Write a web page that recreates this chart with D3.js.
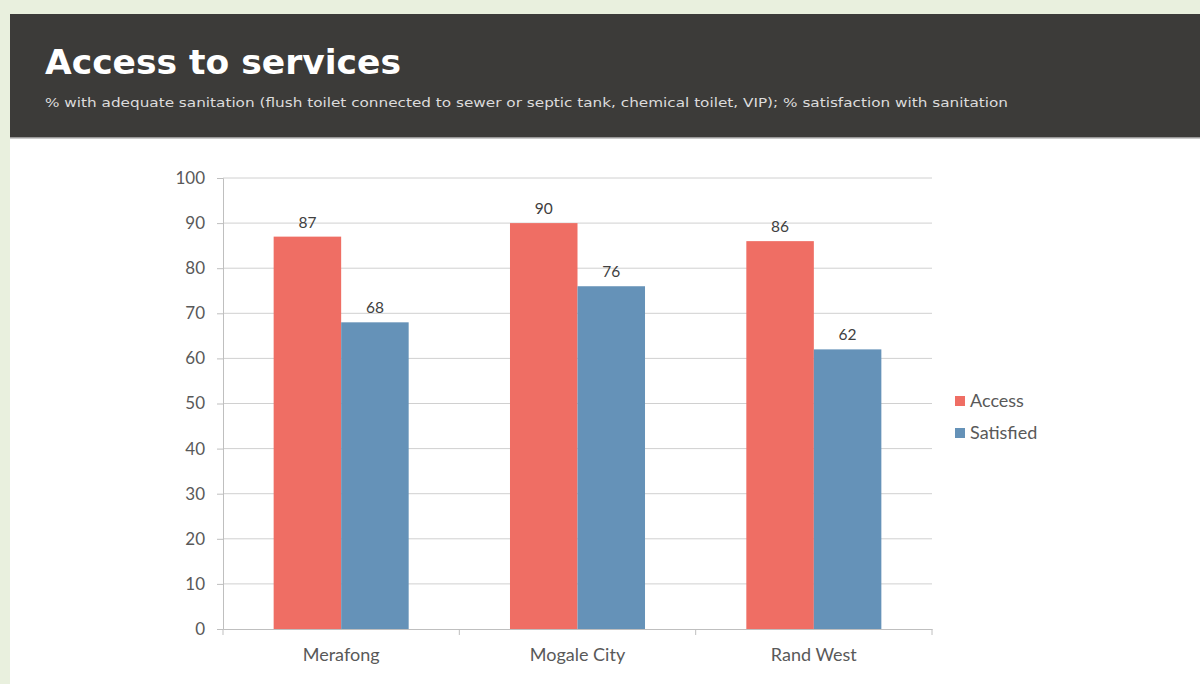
<!DOCTYPE html>
<html>
<head>
<meta charset="utf-8">
<script src="https://cdn.jsdelivr.net/npm/d3@7"></script>
<style>
  body { margin: 0; background: #e9f0de; }
</style>
</head>
<body>
<script>
// data
const categories = ["Merafong", "Mogale City", "Rand West"];
const seriesNames = ["Access", "Satisfied"];
const accessValues = [87, 90, 86];
const satisfiedValues = [68, 76, 62];
const yTicks = [0, 10, 20, 30, 40, 50, 60, 70, 80, 90, 100];

const colors = {Access: "#ef6e64", Satisfied: "#6592b8"};

const width = 1200, height = 684;

const svg = d3.select("body")
  .append("svg")
    .attr("width", width)
    .attr("height", height)
    .style("display", "block");

// page background + panels
svg.append("rect").attr("width", width).attr("height", height).attr("fill", "#e9f0de");
svg.append("rect").attr("x", 10).attr("y", 14).attr("width", width - 10).attr("height", 124).attr("fill", "#3c3b39");
svg.append("rect").attr("x", 10).attr("y", 138).attr("width", width - 10).attr("height", height - 138).attr("fill", "#ffffff");
svg.append("line").attr("x1", 10).attr("x2", width).attr("y1", 138).attr("y2", 138)
  .attr("stroke", "#b8b8b8").attr("stroke-width", 1.5);

svg.append("text")
  .attr("x", 45).attr("y", 74)
  .attr("fill", "#ffffff")
  .style("font-family", "DejaVu Sans")
  .style("font-weight", "bold")
  .style("font-size", "34.5px")
  .text("Access to services");

svg.append("text")
  .attr("x", 45).attr("y", 107)
  .attr("fill", "#dcdcdc")
  .attr("textLength", 963)
  .attr("lengthAdjust", "spacingAndGlyphs")
  .style("font-family", "DejaVu Sans")
  .style("font-size", "12.5px")
  .text("% with adequate sanitation (flush toilet connected to sewer or septic tank, chemical toilet, VIP); % satisfaction with sanitation");

// chart area
const plot = {left: 223, right: 932, top: 178, bottom: 629};

const x = d3.scaleBand()
  .domain(categories)
  .range([plot.left, plot.right])
  .paddingInner(0.4287)
  .paddingOuter(0.2143);

const xSub = d3.scaleBand()
  .domain(seriesNames)
  .range([0, x.bandwidth()]);

const y = d3.scaleLinear()
  .domain([0, 100])
  .range([plot.bottom, plot.top]);

const fontAxis = "Lato, 'Open Sans', sans-serif";

// gridlines
svg.append("g")
  .selectAll("line")
  .data(yTicks.filter(d => d > 0))
  .join("line")
    .attr("x1", plot.left).attr("x2", plot.right)
    .attr("y1", d => y(d)).attr("y2", d => y(d))
    .attr("stroke", "#d0d0d0")
    .attr("stroke-width", 1);

// y axis
const yAxis = svg.append("g")
  .attr("transform", `translate(${plot.left},0)`)
  .call(d3.axisLeft(y).tickValues(yTicks).tickSize(6).tickPadding(12));
yAxis.select(".domain").attr("stroke", "#bfbfbf");
yAxis.selectAll(".tick line").attr("stroke", "#bfbfbf");
yAxis.selectAll(".tick text")
  .attr("fill", "#595959")
  .style("font-family", fontAxis)
  .style("font-size", "17px");

// x axis
const xAxis = svg.append("g")
  .attr("transform", `translate(0,${plot.bottom})`)
  .call(d3.axisBottom(x).tickSize(0).tickPadding(19));
xAxis.select(".domain").attr("stroke", "#bfbfbf");
xAxis.selectAll(".tick text")
  .attr("fill", "#595959")
  .style("font-family", fontAxis)
  .style("font-size", "18px");
// category boundary ticks
const step = x.step();
xAxis.append("g")
  .selectAll("line")
  .data(d3.range(categories.length + 1))
  .join("line")
    .attr("x1", i => plot.left + i * step)
    .attr("x2", i => plot.left + i * step)
    .attr("y1", 0).attr("y2", 6)
    .attr("stroke", "#bfbfbf");

// bars
const rows = categories.map((c, i) => ({
  category: c,
  values: [
    {series: "Access", value: accessValues[i]},
    {series: "Satisfied", value: satisfiedValues[i]}
  ]
}));

const groups = svg.append("g")
  .selectAll("g")
  .data(rows)
  .join("g")
    .attr("transform", d => `translate(${x(d.category)},0)`);

groups.selectAll("rect")
  .data(d => d.values)
  .join("rect")
    .attr("x", d => xSub(d.series))
    .attr("y", d => y(d.value))
    .attr("width", xSub.bandwidth())
    .attr("height", d => plot.bottom - y(d.value))
    .attr("fill", d => colors[d.series]);

groups.selectAll("text")
  .data(d => d.values)
  .join("text")
    .attr("x", d => xSub(d.series) + xSub.bandwidth() / 2)
    .attr("y", d => y(d.value) - 9)
    .attr("text-anchor", "middle")
    .attr("fill", "#404040")
    .style("font-family", fontAxis)
    .style("font-size", "15.5px")
    .text(d => d.value);

// legend
const legend = svg.append("g")
  .selectAll("g")
  .data(seriesNames)
  .join("g")
    .attr("transform", (d, i) => `translate(955,${396 + i * 32})`);

legend.append("rect")
  .attr("width", 10).attr("height", 10)
  .attr("fill", d => colors[d]);

legend.append("text")
  .attr("x", 15).attr("y", 11)
  .attr("fill", "#595959")
  .style("font-family", fontAxis)
  .style("font-size", "18px")
  .text(d => d);
</script>
</body>
</html>
